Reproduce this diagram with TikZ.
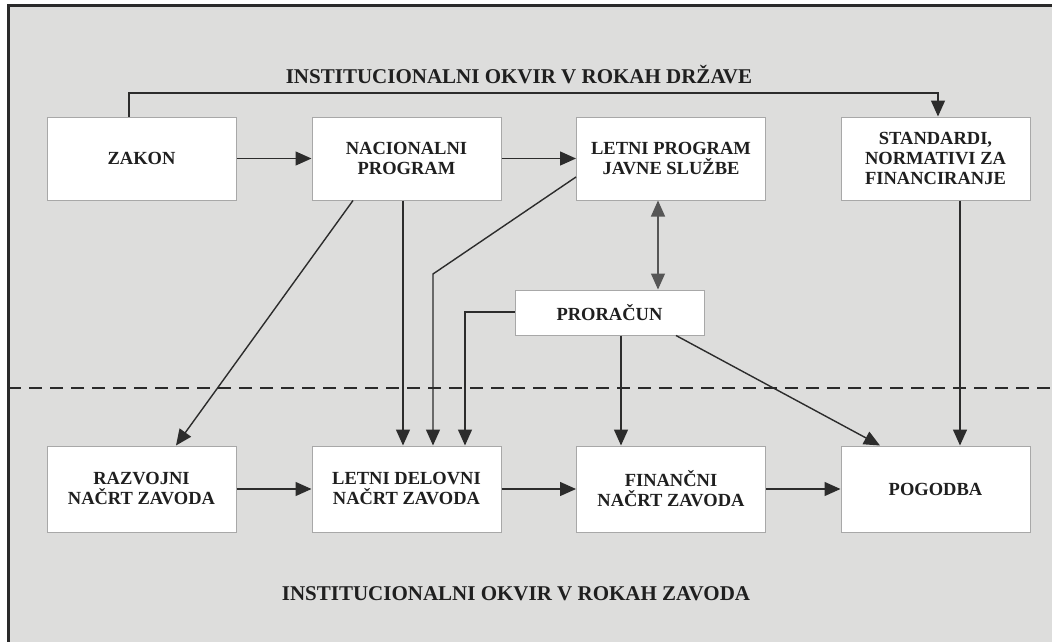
\documentclass[tikz,border=0pt]{standalone}
\usepackage{fontspec}
\setmainfont{Liberation Serif}
\usetikzlibrary{arrows.meta}
\definecolor{bggray}{HTML}{DDDDDC}
\definecolor{boxgray}{HTML}{A8A8A8}
\definecolor{linegray}{HTML}{2C2C2C}
\definecolor{framecol}{HTML}{2A2A2A}
\newcommand\bxfont{\fontsize{18.5}{20}\selectfont\bfseries}
\newcommand\ttlfont{\fontsize{21}{24}\selectfont\bfseries}
\begin{document}
\begin{tikzpicture}[x=1pt,y=-1pt,
  box/.style={draw=boxgray, fill=white, line width=1pt, inner sep=0pt, align=center,
    font=\bxfont, text=black!88, minimum width=189pt},
  toprow/.style={box, minimum height=83pt},
  botrow/.style={box, minimum height=86pt},
  conn/.style={draw=linegray, line width=1.4pt, -{Triangle[length=16pt,width=14pt]}},
  plain/.style={draw=linegray, line width=1.4pt},
  dbl/.style={draw=linegray!80, line width=1.2pt, {Triangle[length=16pt,width=14pt]}-{Triangle[length=16pt,width=14pt]}},
  title/.style={font=\ttlfont, text=black!88, inner sep=0pt}]
\useasboundingbox (0,0) rectangle (1052,642);
\fill[white] (0,0) rectangle (1052,642);
\fill[bggray] (8,6) rectangle (1052,642);
\draw[framecol, line width=3pt] (1052,6) -- (8,6) -- (8,642);

% titles
\node[title] (t1) at (519,75) {INSTITUCIONALNI OKVIR V ROKAH DRŽAVE};
\node[title] (t2) at (516,594) {INSTITUCIONALNI OKVIR V ROKAH ZAVODA};

% dashed boundary
\coordinate (dl) at (8,388);
\coordinate (dr) at (1052,388);
\draw[framecol, line width=2.6pt, dash pattern=on 13pt off 8pt] (dl) -- (dr);

% top row
\node[toprow] (zakon) at (141.5,158.5) {ZAKON};
\node[toprow] (nac) at (406.5,158.5) {NACIONALNI\\PROGRAM};
\node[toprow] (letp) at (671,158.5) {LETNI PROGRAM\\JAVNE SLUŽBE};
\node[toprow] (stand) at (935.5,158.5) {STANDARDI,\\NORMATIVI ZA\\FINANCIRANJE};
% middle
\node[box, minimum height=45pt] (pror) at (609.5,312.5) {PRORAČUN};
% bottom row
\node[botrow] (razv) at (141.5,489) {RAZVOJNI\\NAČRT ZAVODA};
\node[botrow] (letd) at (406.5,489) {LETNI DELOVNI\\NAČRT ZAVODA};
\node[botrow] (fin) at (671,489) {FINANČNI\\NAČRT ZAVODA};
\node[botrow] (pog) at (935.5,489) {POGODBA};

% helper coordinates
\coordinate (k1) at (129,93);
\coordinate (k2) at (938,93);
\coordinate (xb) at (658,0);
\coordinate (d1) at (353,0);
\coordinate (d2) at (176,0);
\coordinate (v1) at (403,0);
\coordinate (bend) at (433,274);
\coordinate (lp) at (0,177);
\coordinate (pc) at (465,312);
\coordinate (f1) at (621,0);
\coordinate (p1) at (676,0);
\coordinate (p2) at (880,0);
\coordinate (s1) at (960,0);

% connectors
\draw[conn] (zakon.north -| k1) -- (k1) -- (k2) -- (stand.north -| k2);
\draw[conn] (zakon) -- (nac);
\draw[conn] (nac) -- (letp);
\draw[dbl] (letp.south -| xb) -- (pror.north -| xb);
\draw[conn] (nac.south -| d1) -- (razv.north -| d2);
\draw[conn] (nac.south -| v1) -- (letd.north -| v1);
\draw[conn] (letp.west |- lp) -- (bend) -- (letd.north -| bend);
\draw[conn] (pror.west |- pc) -- (pc) -- (letd.north -| pc);
\draw[conn] (pror.south -| f1) -- (fin.north -| f1);
\draw[conn] (pror.south -| p1) -- (pog.north -| p2);
\draw[conn] (stand.south -| s1) -- (pog.north -| s1);
\draw[conn] (razv) -- (letd);
\draw[conn] (letd) -- (fin);
\draw[conn] (fin) -- (pog);
\end{tikzpicture}
\end{document}
